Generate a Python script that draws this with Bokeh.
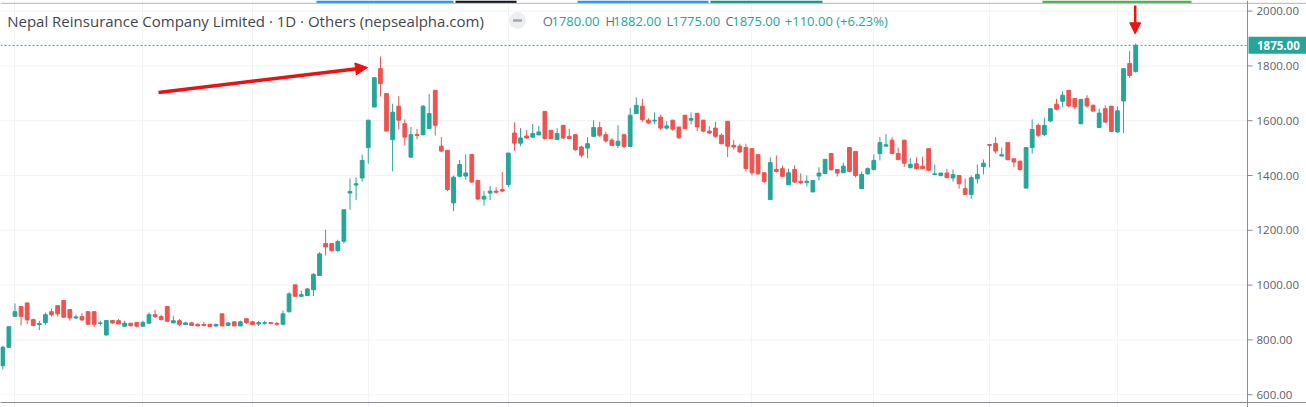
from bokeh.plotting import figure
from bokeh.models import (Range1d, Span, Arrow, NormalHead, FixedTicker, Grid,
                          ColumnDataSource)
from bokeh.core.properties import value
from bokeh.embed import file_html
from bokeh.resources import INLINE

# ---------------- data (daily OHLC, NRIC) ----------------
opens = [706, 773, 886, 922, 935, 874, 856, 863, 903, 925, 944, 911, 880, 885, 903, 903, 860, 818, 871, 870,
         850, 861, 864, 850, 861, 892, 885, 922, 862, 870, 856, 862, 857, 856, 857, 851, 895, 853, 866, 851,
         877, 866, 858, 861, 863, 860, 857, 903, 1001, 959, 962, 983, 1035, 1152, 1152, 1126, 1160, 1336, 1365, 1391,
         1502, 1650, 1790, 1699, 1531, 1653, 1589, 1467, 1550, 1549, 1571, 1711, 1507, 1492, 1300, 1397, 1398, 1477, 1382, 1314,
         1336, 1343, 1349, 1367, 1555, 1518, 1544, 1540, 1548, 1634, 1565, 1531, 1583, 1543, 1549, 1504, 1500, 1543, 1575, 1549,
         1529, 1510, 1549, 1506, 1626, 1653, 1602, 1599, 1613, 1573, 1602, 1577, 1620, 1602, 1627, 1602, 1562, 1573, 1547, 1598,
         1510, 1507, 1502, 1498, 1476, 1410, 1312, 1422, 1425, 1366, 1422, 1379, 1374, 1340, 1398, 1407, 1480, 1422, 1410, 1502,
         1488, 1352, 1406, 1422, 1480, 1507, 1529, 1480, 1529, 1429, 1443, 1434, 1498, 1403, 1400, 1409, 1391, 1400, 1352, 1331,
         1388, 1433, 1513, 1517, 1471, 1520, 1461, 1452, 1354, 1502, 1583, 1549, 1599, 1660, 1671, 1711, 1681, 1589, 1681, 1656,
         1575, 1644, 1653, 1559, 1672, 1809, 1780]
highs = [779, 850, 933, 922, 935, 878, 870, 900, 914, 925, 944, 911, 892, 898, 903, 903, 870, 872, 872, 876,
         870, 862, 864, 870, 900, 910, 892, 922, 888, 876, 866, 866, 860, 866, 857, 860, 895, 865, 866, 870,
         880, 870, 870, 870, 863, 866, 907, 974, 1001, 979, 990, 1044, 1120, 1202, 1152, 1166, 1275, 1389, 1393, 1476,
         1602, 1757, 1834, 1700, 1662, 1690, 1605, 1577, 1570, 1657, 1698, 1711, 1540, 1492, 1400, 1457, 1477, 1477, 1382, 1343,
         1362, 1357, 1413, 1482, 1594, 1573, 1566, 1588, 1581, 1634, 1565, 1573, 1583, 1570, 1549, 1509, 1540, 1602, 1596, 1560,
         1536, 1584, 1549, 1646, 1685, 1680, 1609, 1630, 1622, 1598, 1602, 1577, 1620, 1630, 1627, 1602, 1580, 1596, 1554, 1598,
         1529, 1516, 1516, 1498, 1476, 1410, 1466, 1473, 1437, 1425, 1437, 1408, 1400, 1382, 1430, 1459, 1480, 1422, 1447, 1502,
         1488, 1415, 1430, 1477, 1540, 1551, 1540, 1502, 1529, 1463, 1466, 1469, 1498, 1440, 1409, 1425, 1422, 1400, 1389, 1400,
         1440, 1459, 1513, 1540, 1502, 1520, 1461, 1455, 1502, 1605, 1590, 1611, 1644, 1680, 1708, 1711, 1681, 1678, 1693, 1660,
         1644, 1656, 1653, 1653, 1790, 1854, 1882]
lows = [692, 770, 885, 853, 858, 853, 836, 856, 885, 885, 880, 870, 876, 870, 855, 846, 852, 816, 858, 858,
        848, 848, 846, 848, 860, 880, 874, 866, 862, 850, 856, 853, 851, 849, 846, 846, 850, 851, 851, 851,
        858, 856, 851, 856, 856, 851, 856, 899, 957, 957, 960, 960, 1035, 1108, 1123, 1120, 1152, 1275, 1310, 1378,
        1443, 1650, 1688, 1562, 1415, 1569, 1510, 1467, 1532, 1546, 1571, 1546, 1485, 1343, 1270, 1397, 1385, 1372, 1310, 1290,
        1310, 1334, 1339, 1357, 1489, 1507, 1533, 1537, 1548, 1530, 1535, 1531, 1533, 1533, 1490, 1466, 1464, 1540, 1540, 1520,
        1508, 1500, 1500, 1506, 1626, 1595, 1588, 1587, 1566, 1567, 1563, 1532, 1568, 1587, 1562, 1558, 1551, 1538, 1514, 1467,
        1494, 1482, 1414, 1400, 1403, 1373, 1312, 1411, 1393, 1366, 1373, 1368, 1360, 1340, 1382, 1407, 1418, 1396, 1410, 1411,
        1393, 1352, 1403, 1418, 1455, 1507, 1480, 1458, 1432, 1425, 1422, 1425, 1415, 1403, 1396, 1392, 1378, 1352, 1330, 1315,
        1371, 1404, 1430, 1480, 1471, 1455, 1430, 1418, 1354, 1480, 1540, 1544, 1595, 1638, 1649, 1649, 1642, 1587, 1647, 1635,
        1575, 1591, 1558, 1555, 1555, 1756, 1775]
closes = [773, 848, 903, 886, 873, 853, 860, 892, 892, 895, 883, 880, 884, 873, 857, 857, 862, 871, 862, 858,
          861, 852, 850, 864, 892, 885, 874, 868, 870, 857, 862, 853, 851, 853, 849, 856, 851, 862, 851, 866,
          863, 856, 863, 863, 860, 857, 895, 968, 959, 965, 986, 1039, 1114, 1139, 1126, 1159, 1275, 1342, 1370, 1455,
          1602, 1757, 1735, 1562, 1631, 1602, 1540, 1549, 1546, 1653, 1626, 1583, 1489, 1349, 1394, 1440, 1409, 1376, 1314, 1324,
          1343, 1339, 1343, 1482, 1518, 1537, 1537, 1553, 1559, 1535, 1535, 1553, 1537, 1535, 1494, 1474, 1516, 1575, 1547, 1526,
          1510, 1525, 1506, 1620, 1656, 1604, 1592, 1602, 1573, 1581, 1569, 1538, 1571, 1608, 1577, 1562, 1555, 1543, 1516, 1507,
          1504, 1486, 1425, 1410, 1406, 1378, 1447, 1415, 1397, 1410, 1376, 1373, 1379, 1382, 1409, 1459, 1421, 1409, 1434, 1415,
          1400, 1404, 1425, 1455, 1520, 1512, 1480, 1458, 1445, 1441, 1425, 1425, 1419, 1406, 1409, 1392, 1403, 1370, 1331, 1392,
          1404, 1445, 1510, 1489, 1476, 1458, 1449, 1422, 1502, 1568, 1547, 1583, 1644, 1642, 1693, 1654, 1650, 1678, 1654, 1635,
          1628, 1595, 1561, 1636, 1790, 1765, 1875]

price_ticks = [600, 800, 1000, 1200, 1400, 1600, 1800, 2000]
price_tick_labels = ["600.00", "800.00", "1000.00", "1200.00", "1400.00", "1600.00", "1800.00", "2000.00"]
month_ticks = [2, 23, 41, 60, 83, 103, 123, 143, 162, 183]   # first bar of each month (grid)

TITLE = "Nepal Reinsurance Company Limited \u00b7 1D \u00b7 Others (nepsealpha.com)"
ohlc_keys = ["O", "H", "L", "C"]
ohlc_vals = ["1780.00", "1882.00", "1775.00", "1875.00"]
change_txt = "+110.00 (+6.23%)"
last_close = 1875.0
last_txt = "1875.00"

# ---------------- style ----------------
UP, DOWN = "#26a69a", "#ef5350"
GRID = "#f0f3fa"
AXIS = "#8a8d96"
TXT = "#434651"
ARROW_RED = "#ee1111"
FONT = "Open Sans"
W, H = 1306, 407

# helpers: reference-pixel -> data coordinates (for annotation placement only)
BAR_PX, BAR0 = 6.091, 2.3
def bx(px):
    return (px - BAR0) / BAR_PX
def py(pyx):
    return 2000 - (pyx - 10.6) * 3.6496

AXIS_X = 1247    # price-scale border (px)
LEGEND_Y = 20.5  # legend text row centre (px)

n = len(opens)
src = ColumnDataSource(dict(
    x=list(range(n)), high=highs, low=lows,
    top=[max(o, c) for o, c in zip(opens, closes)],
    bottom=[min(o, c) for o, c in zip(opens, closes)],
    color=[UP if c >= o else DOWN for o, c in zip(opens, closes)],
))

p = figure(width=W, height=H, output_backend="svg", toolbar_location=None,
           x_range=Range1d(bx(0), bx(W)), y_range=Range1d(py(H), py(0)),
           x_axis_type=None, y_axis_type=None,
           min_border_left=0, min_border_top=0, min_border_right=0, min_border_bottom=0)
p.outline_line_color = None
p.background_fill_color = "white"
p.border_fill_color = "white"

# grid: vertical (month starts) and horizontal (price levels, chart pane only)
p.add_layout(Grid(dimension=0, ticker=FixedTicker(ticks=month_ticks), grid_line_color=GRID))
p.segment(x0=[bx(0)] * len(price_ticks), x1=[bx(AXIS_X)] * len(price_ticks),
          y0=price_ticks, y1=price_ticks, line_color=GRID, line_width=1)

# top strip
strip_x0 = [316, 455, 577, 710, 1042]
strip_x1 = [453, 516, 708, 822, 1191]
strip_col = ["#2196f3", "#131722", "#2196f3", "#089981", "#4caf50"]
p.quad(left=[bx(v) for v in strip_x0], right=[bx(v) for v in strip_x1],
       top=[py(0)] * 5, bottom=[py(2.5)] * 5, fill_color=strip_col, line_color=None)
p.add_layout(Span(location=py(2.8), dimension="width", line_color="#b2b5be", line_width=1))

# candles
p.segment(x0="x", y0="low", x1="x", y1="high", line_color="color", line_width=1, source=src)
p.vbar(x="x", width=0.62, top="top", bottom="bottom", fill_color="color",
       line_color="color", line_width=1, source=src)

# last price line (chart pane only)
p.segment(x0=[bx(0)], x1=[bx(AXIS_X)], y0=[last_close], y1=[last_close],
          line_color=UP, line_dash="2 2", line_width=1)

# price scale (right)
p.add_layout(Span(location=bx(AXIS_X), dimension="height", line_color=AXIS, line_width=1))
p.add_layout(Span(location=py(402), dimension="width", line_color=AXIS, line_width=1))
p.segment(x0=[bx(AXIS_X)] * len(price_ticks), x1=[bx(AXIS_X + 5)] * len(price_ticks),
          y0=price_ticks, y1=price_ticks, line_color=AXIS, line_width=1)
p.text(x=[bx(1256)] * len(price_ticks), y=price_ticks, text=price_tick_labels,
       text_font=value(FONT), text_font_size="11.5px", text_color="#5d606b",
       text_align="left", text_baseline="middle")

# last price tag
p.rect(x=[bx((AXIS_X + 1 + W) / 2)], y=[last_close], width=W - AXIS_X - 1, height=17,
       width_units="screen", height_units="screen", fill_color=UP, line_color=None)
p.text(x=[bx(1256.5)], y=[last_close], text=[last_txt], text_font=value(FONT),
       text_font_size="11.5px", text_font_style="bold", text_color="white",
       text_align="left", text_baseline="middle")

# legend row
p.text(x=[bx(6.7)], y=[py(LEGEND_Y)], text=[TITLE], text_font=value(FONT),
       text_font_size="15px", text_color=TXT, text_align="left", text_baseline="middle")
p.scatter(x=[bx(517)], y=[py(20)], size=17, marker="circle", fill_color="#eceef2", line_color=None)
p.scatter(x=[bx(517)], y=[py(20)], size=9, marker="dash", line_color="#a3a6af", line_width=2.5)

key_px = [542.3, 605, 666, 725]
val_px = [551, 612.7, 671.7, 731.7]
p.text(x=[bx(v) for v in key_px], y=[py(LEGEND_Y)] * 4, text=ohlc_keys, text_font=value(FONT),
       text_font_size="13px", text_color="#6a6d78", text_align="left", text_baseline="middle")
p.text(x=[bx(v) for v in val_px], y=[py(LEGEND_Y)] * 4, text=ohlc_vals, text_font=value(FONT),
       text_font_size="13px", text_color=UP, text_align="left", text_baseline="middle")
p.text(x=[bx(784.3)], y=[py(LEGEND_Y)], text=[change_txt], text_font=value(FONT),
       text_font_size="13px", text_color=UP, text_align="left", text_baseline="middle")

# red arrows
p.add_layout(Arrow(end=NormalHead(size=12, fill_color=ARROW_RED, line_color=ARROW_RED),
                   x_start=bx(158), y_start=py(92), x_end=bx(367), y_end=py(67),
                   line_color=ARROW_RED, line_width=3.5))
p.add_layout(Arrow(end=NormalHead(size=11, fill_color=ARROW_RED, line_color=ARROW_RED),
                   x_start=bx(1134.7), y_start=py(5), x_end=bx(1134.7), y_end=py(33.3),
                   line_color=ARROW_RED, line_width=2.5))

open("out.html", "w").write(file_html(p, INLINE))
